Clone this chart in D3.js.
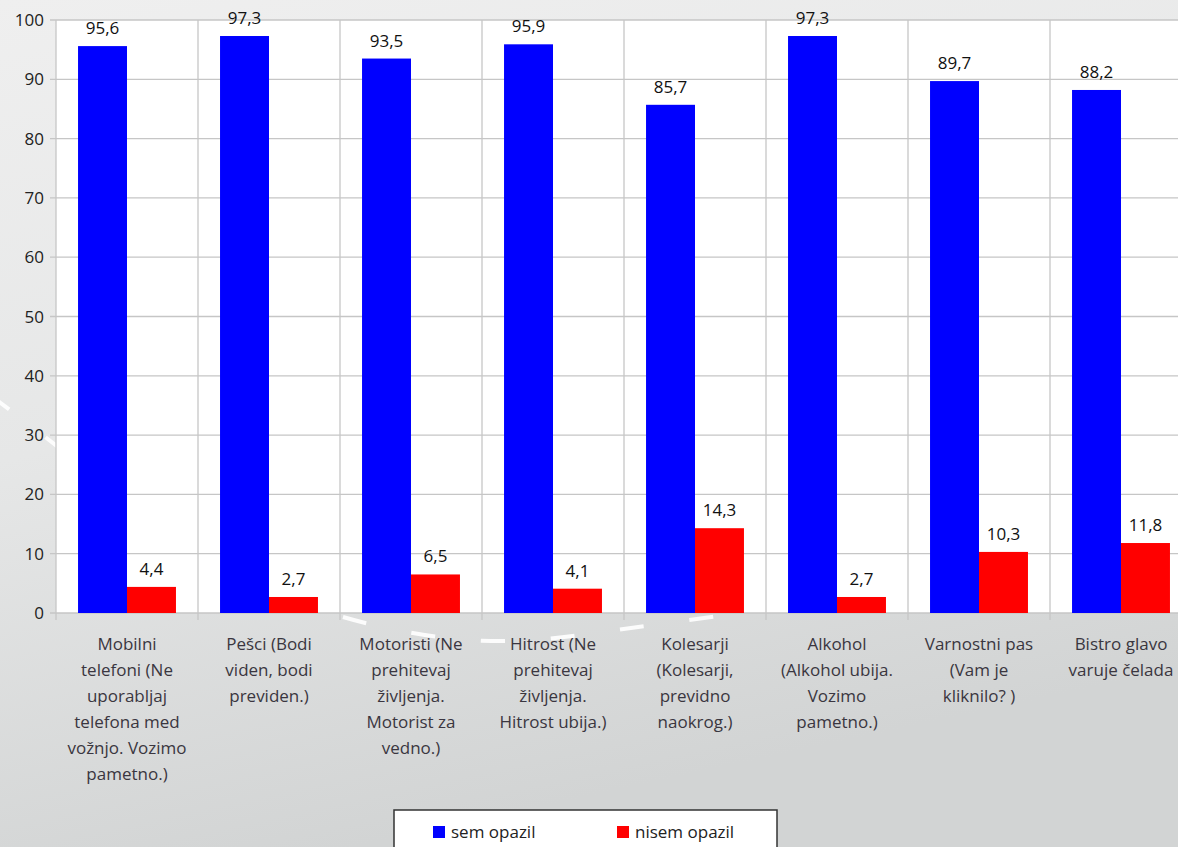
<!DOCTYPE html>
<html>
<head>
<meta charset="utf-8">
<script src="https://cdn.jsdelivr.net/npm/d3@7"></script>
<style>
html,body{margin:0;padding:0;overflow:hidden;}
svg{display:block;}
</style>
</head>
<body>
<svg id="chart" width="1178" height="847"></svg>
<script>
const categories = [
  ["Mobilni","telefoni (Ne","uporabljaj","telefona med","vožnjo. Vozimo","pametno.)"],
  ["Pešci (Bodi","viden, bodi","previden.)"],
  ["Motoristi (Ne","prehitevaj","življenja.","Motorist za","vedno.)"],
  ["Hitrost (Ne","prehitevaj","življenja.","Hitrost ubija.)"],
  ["Kolesarji","(Kolesarji,","previdno","naokrog.)"],
  ["Alkohol","(Alkohol ubija.","Vozimo","pametno.)"],
  ["Varnostni pas","(Vam je","kliknilo? )"],
  ["Bistro glavo","varuje čelada"]
];
const seriesNames = ["sem opazil","nisem opazil"];
const semOpazil = [95.6, 97.3, 93.5, 95.9, 85.7, 97.3, 89.7, 88.2];
const nisemOpazil = [4.4, 2.7, 6.5, 4.1, 14.3, 2.7, 10.3, 11.8];
const yTicks = [0,10,20,30,40,50,60,70,80,90,100];
const colors = ["#0000ff", "#ff0000"];

(function(){
const W = 1178, H = 847;
const svg = d3.select("#chart");
const FONT = "'Open Sans', 'Liberation Sans', sans-serif";

// background
const defs = svg.append("defs");
const g1 = defs.append("linearGradient").attr("id","bg").attr("x1","0").attr("y1","0").attr("x2","0.3").attr("y2","1");
g1.append("stop").attr("offset","0").attr("stop-color","#efefef");
g1.append("stop").attr("offset","0.5").attr("stop-color","#e6e7e7");
g1.append("stop").attr("offset","1").attr("stop-color","#d2d4d4");
svg.append("rect").attr("width",W).attr("height",H).attr("fill","url(#bg)");

// decorative swoosh
const swoosh = [[-10,395],[50,440],[200,560],[330,620],[490,648],[600,632],[720,616],[900,590],[1178,540]];
svg.append("path")
  .attr("d", d3.line().curve(d3.curveBasis)(swoosh))
  .attr("fill","none").attr("stroke","#ffffff").attr("stroke-width",4)
  .attr("stroke-dasharray","24 46").attr("opacity",0.9);

const pLeft = 56, pTop = 20, pBottom = 613;
const band = 142;
const x = d3.scaleBand().domain(d3.range(categories.length)).range([pLeft, pLeft + band*categories.length]).paddingInner(0).paddingOuter(0);
const y = d3.scaleLinear().domain([0,100]).range([pBottom, pTop]);
const x1 = d3.scaleBand().domain([0,1]).range([0, x.bandwidth()]).paddingOuter(0.45).paddingInner(0);

// plot area
svg.append("rect").attr("x",pLeft).attr("y",pTop).attr("width",band*categories.length).attr("height",pBottom-pTop).attr("fill","#ffffff");

// horizontal grid
svg.append("g").selectAll("line").data(yTicks).join("line")
  .attr("x1",pLeft-6).attr("x2",pLeft+band*categories.length)
  .attr("y1",d=>y(d)).attr("y2",d=>y(d))
  .attr("stroke","#c6c6c6").attr("stroke-width",1.3);

// vertical grid at category boundaries
svg.append("g").selectAll("line").data(d3.range(categories.length+1)).join("line")
  .attr("x1",d=>pLeft+d*band).attr("x2",d=>pLeft+d*band)
  .attr("y1",pTop).attr("y2",pBottom+7)
  .attr("stroke","#c6c6c6").attr("stroke-width",1.3);

// y axis labels
svg.append("g").selectAll("text").data(yTicks).join("text")
  .attr("x",44).attr("y",d=>y(d)+6)
  .attr("text-anchor","end").attr("font-family",FONT).attr("font-size",17)
  .attr("fill","#222").text(d=>d);

// bars
const series = [semOpazil, nisemOpazil];
series.forEach((vals, si) => {
  const g = svg.append("g");
  g.selectAll("rect").data(vals).join("rect")
    .attr("x",(d,i)=>x(i)+x1(si)).attr("width",x1.bandwidth())
    .attr("y",d=>y(d)).attr("height",d=>pBottom-y(d))
    .attr("fill",colors[si]);
  g.selectAll("text").data(vals).join("text")
    .attr("x",(d,i)=>x(i)+x1(si)+x1.bandwidth()/2)
    .attr("y",d=>y(d)-12)
    .attr("text-anchor","middle").attr("font-family",FONT).attr("font-size",17)
    .attr("fill","#111").text(d=>d.toFixed(1).replace(".",","));
});

// category labels
const cat = svg.append("g").selectAll("text").data(categories).join("text")
  .attr("text-anchor","middle").attr("font-family",FONT).attr("font-size",17)
  .attr("fill","#3a3640");
cat.each(function(lines,i){
  d3.select(this).selectAll("tspan").data(lines).join("tspan")
    .attr("x", x(i)+x.bandwidth()/2)
    .attr("y",(d,j)=>650+j*26)
    .text(d=>d);
});

// legend
const lg = svg.append("g");
lg.append("rect").attr("x",394).attr("y",810).attr("width",383).attr("height",60)
  .attr("fill","#ffffff").attr("stroke","#333").attr("stroke-width",1.5);
const legendX = [433, 617];
seriesNames.forEach((n,i)=>{
  lg.append("rect").attr("x",legendX[i]).attr("y",826).attr("width",12).attr("height",12).attr("fill",colors[i]);
  lg.append("text").attr("x",legendX[i]+18).attr("y",838).attr("font-family",FONT).attr("font-size",17)
    .attr("fill","#222").text(n);
});
})();
</script>
</body>
</html>
